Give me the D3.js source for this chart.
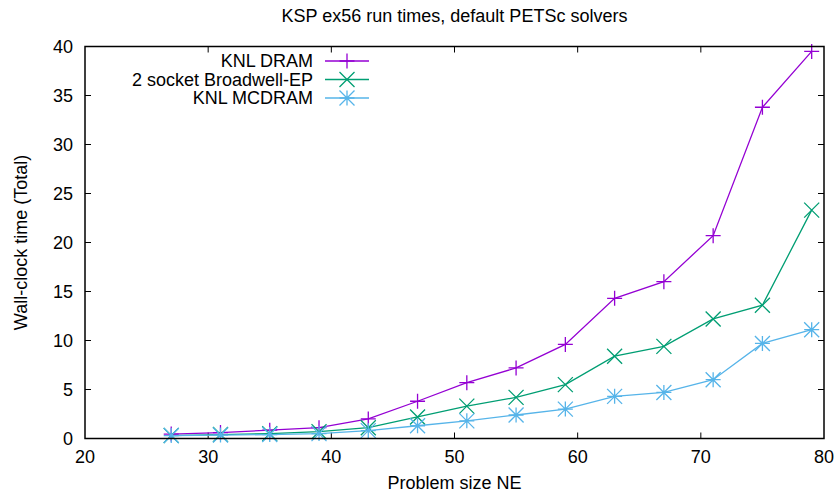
<!DOCTYPE html>
<html>
<head>
<meta charset="utf-8">
<script src="https://cdn.jsdelivr.net/npm/d3@7"></script>
<style>
  body { margin: 0; background: #fff; }
  svg text { font-family: "Liberation Sans", Arial, sans-serif; fill: #000; }
</style>
</head>
<body>
<svg id="chart" width="839" height="492"></svg>
<script>
// Problem sizes (NE)
const problemSizes = [27, 31, 35, 39, 43, 47, 51, 55, 59, 63, 67, 71, 75, 79];

// Wall-clock times per machine
const knlDram = [0.45, 0.6, 0.85, 1.1, 2.0, 3.8, 5.7, 7.2, 9.6, 14.3, 16.0, 20.7, 33.8, 39.5];
const broadwell = [0.3, 0.4, 0.5, 0.7, 1.1, 2.2, 3.3, 4.2, 5.5, 8.4, 9.4, 12.2, 13.6, 23.3];
const knlMcdram = [0.3, 0.35, 0.4, 0.5, 0.8, 1.3, 1.8, 2.4, 3.0, 4.3, 4.7, 6.0, 9.7, 11.1];

const seriesNames = ['KNL DRAM', '2 socket Broadwell-EP', 'KNL MCDRAM'];
const seriesColors = ['#9400d3', '#009e73', '#56b4e9'];
const seriesMarkers = ['plus', 'cross', 'star'];

const xTicks = [20, 30, 40, 50, 60, 70, 80];
const yTicks = [0, 5, 10, 15, 20, 25, 30, 35, 40];

const svg = d3.select('#chart');
const margin = { left: 85, right: 15, top: 46.5, bottom: 53.5 };
const width = 839, height = 492;
const fontSize = '18px';

const x = d3.scaleLinear().domain([20, 80]).range([margin.left, width - margin.right]);
const y = d3.scaleLinear().domain([0, 40]).range([height - margin.bottom, margin.top]);

// Marker path generator
const markerPath = (type, s) => {
    const plus = `M${-s},0H${s}M0,${-s}V${s}`;
    const cross = `M${-s},${-s}L${s},${s}M${-s},${s}L${s},${-s}`;
    if (type === 'plus') return plus;
    if (type === 'cross') return cross;
    return plus + cross;
};

// Title
svg.append('text')
    .attr('x', (x(20) + x(80)) / 2)
    .attr('y', 22)
    .attr('text-anchor', 'middle')
    .style('font-size', fontSize)
    .text('KSP ex56 run times, default PETSc solvers');

// Ticks (inward, mirrored)
const tickLen = 6;
const axes = svg.append('g').attr('stroke', '#000').attr('stroke-width', 1);
xTicks.slice(1, -1).forEach(t => {
    axes.append('line').attr('x1', x(t)).attr('x2', x(t))
        .attr('y1', y(0)).attr('y2', y(0) - tickLen);
    axes.append('line').attr('x1', x(t)).attr('x2', x(t))
        .attr('y1', y(40)).attr('y2', y(40) + tickLen);
});
yTicks.slice(1, -1).forEach(t => {
    axes.append('line').attr('x1', x(20)).attr('x2', x(20) + tickLen)
        .attr('y1', y(t)).attr('y2', y(t));
    axes.append('line').attr('x1', x(80)).attr('x2', x(80) - tickLen)
        .attr('y1', y(t)).attr('y2', y(t));
});

// Tick labels
svg.append('g').selectAll('text')
    .data(xTicks).enter().append('text')
    .attr('x', d => x(d))
    .attr('y', y(0) + 24)
    .attr('text-anchor', 'middle')
    .style('font-size', fontSize)
    .text(d => d);

svg.append('g').selectAll('text')
    .data(yTicks).enter().append('text')
    .attr('x', x(20) - 12)
    .attr('y', d => y(d) + 6)
    .attr('text-anchor', 'end')
    .style('font-size', fontSize)
    .text(d => d);

// Axis titles
svg.append('text')
    .attr('x', (x(20) + x(80)) / 2)
    .attr('y', 489)
    .attr('text-anchor', 'middle')
    .style('font-size', fontSize)
    .text('Problem size NE');

svg.append('text')
    .attr('transform', `translate(27,${(y(0) + y(40)) / 2}) rotate(-90)`)
    .attr('text-anchor', 'middle')
    .style('font-size', fontSize)
    .text('Wall-clock time (Total)');

// Series
const allSeries = [knlDram, broadwell, knlMcdram];
const line = d3.line().x((d, i) => x(problemSizes[i])).y(d => y(d));

allSeries.forEach((values, si) => {
    const g = svg.append('g');
    g.append('path')
        .datum(values)
        .attr('fill', 'none')
        .attr('stroke', seriesColors[si])
        .attr('stroke-width', 1.3)
        .attr('d', line);
    g.selectAll('path.pt')
        .data(values).enter().append('path')
        .attr('class', 'pt')
        .attr('transform', (d, i) => `translate(${x(problemSizes[i])},${y(d)})`)
        .attr('d', markerPath(seriesMarkers[si], 7.5))
        .attr('fill', 'none')
        .attr('stroke', seriesColors[si])
        .attr('stroke-width', 1.3);
});

// Legend
const legendRows = [61, 79.5, 98];
seriesNames.forEach((name, si) => {
    const ly = legendRows[si];
    svg.append('text')
        .attr('x', 313)
        .attr('y', ly + 6)
        .attr('text-anchor', 'end')
        .style('font-size', fontSize)
        .text(name);
    svg.append('line')
        .attr('x1', 325).attr('x2', 369)
        .attr('y1', ly).attr('y2', ly)
        .attr('stroke', seriesColors[si])
        .attr('stroke-width', 1.3);
    svg.append('path')
        .attr('transform', `translate(347,${ly})`)
        .attr('d', markerPath(seriesMarkers[si], 7.5))
        .attr('fill', 'none')
        .attr('stroke', seriesColors[si])
        .attr('stroke-width', 1.3);
});

// Border
svg.append('rect')
    .attr('x', x(20)).attr('y', y(40))
    .attr('width', x(80) - x(20)).attr('height', y(0) - y(40))
    .attr('fill', 'none')
    .attr('stroke', '#000')
    .attr('stroke-width', 1.5);
</script>
</body>
</html>
